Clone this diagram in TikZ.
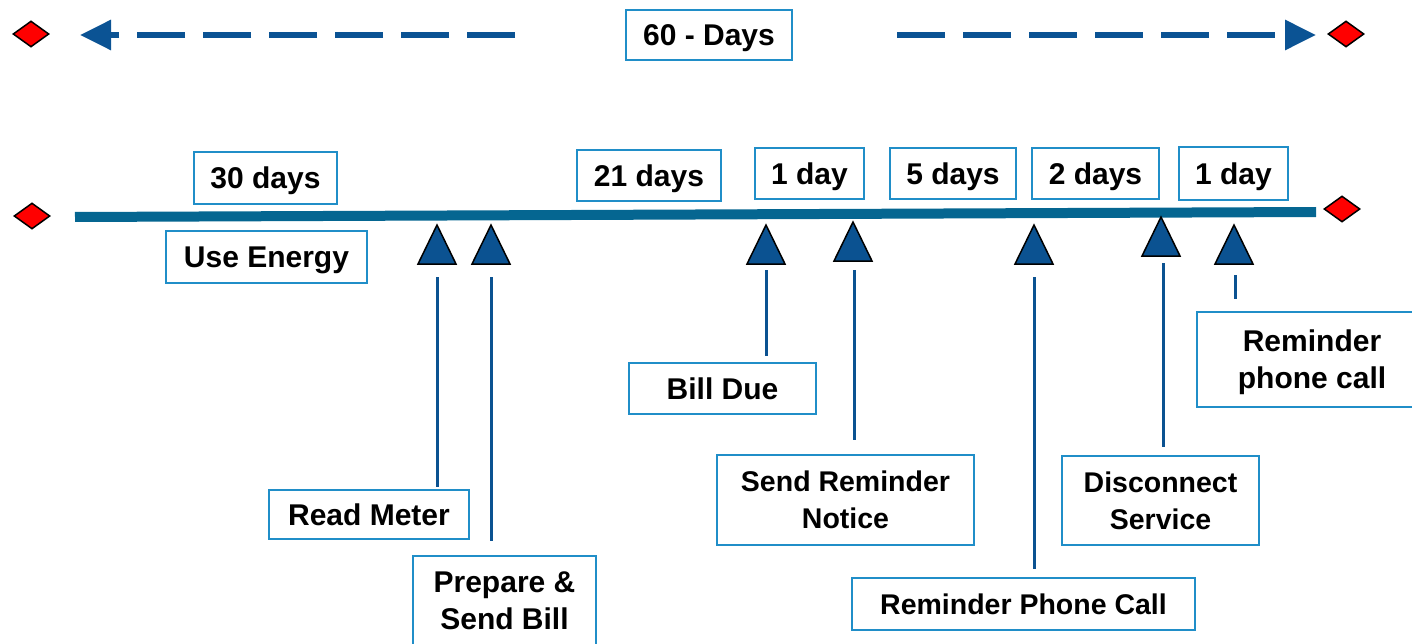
\documentclass[tikz,border=0pt]{standalone}
\usepackage{fontspec}
\setmainfont{Liberation Sans}
\usetikzlibrary{arrows.meta,shapes.geometric}
\definecolor{boxblue}{RGB}{32,142,200}
\definecolor{lineblue}{RGB}{5,102,145}
\definecolor{triblue}{RGB}{11,82,145}
\definecolor{dashblue}{RGB}{11,83,148}
\tikzset{
  lbl/.style={draw=boxblue, line width=2pt, fill=white, inner sep=0pt, align=center,
    font=\fontsize{30}{37}\selectfont\bfseries, text=black},
  small/.style={font=\fontsize{28.5}{37}\selectfont\bfseries},
  one/.style={lbl, text height=21.5pt, text depth=0pt},
  txt/.style={inner sep=0pt, align=center, font=\fontsize{30}{37}\selectfont\bfseries, text=black},
  dia/.style={diamond, draw=black, fill=red, line width=1.5pt, inner sep=0pt, minimum width=36pt, minimum height=26pt},
  topdash/.style={draw=dashblue, line width=6pt, dash pattern=on 48pt off 18pt,
    -{Triangle[length=31pt,width=29pt]}},
  leader/.style={draw=triblue, line width=3pt},
  tri/.pic={\filldraw[fill=triblue, draw=black, line width=1.5pt, line join=miter] (0,0) -- (19,39) -- (-19,39) -- cycle;}
}
\begin{document}
\begin{tikzpicture}[x=1pt,y=-1pt]
\useasboundingbox (0,0) rectangle (1412,644);
% top row
\node[dia] (dTL) at (31,34) {};
\node[dia] (dTR) at (1346,34) {};
\node[one, minimum width=166pt, minimum height=50pt] (sixty) at (709,35) {60 - Days};
\coordinate (aLs) at (515,35);
\coordinate (aLe) at (80,35);
\coordinate (aRs) at (897,35);
\coordinate (aRe) at (1316,35);
\draw[topdash] (aLs) -- (aLe);
\draw[topdash] (aRs) -- (aRe);
% timeline
\node[dia] (dML) at (32,216) {};
\node[dia] (dMR) at (1342,209) {};
\coordinate (tlA) at (75,217);
\coordinate (tlB) at (1316,212);
\draw[draw=lineblue, line width=10pt] (tlA) -- (tlB);
% duration boxes
\node[one, minimum width=143pt, minimum height=52pt] (d30) at (265.5,178) {30 days};
\node[one, minimum width=144pt, minimum height=51pt] (d21) at (649,175.5) {21 days};
\node[one, minimum width=109pt, minimum height=51pt] (d1a) at (809.5,173.5) {1 day};
\node[one, minimum width=126pt, minimum height=51pt] (d5) at (953,173.5) {5 days};
\node[one, minimum width=127pt, minimum height=51pt] (d2) at (1095.5,173.5) {2 days};
\node[one, minimum width=109pt, minimum height=53pt] (d1b) at (1233.5,173.5) {1 day};
\node[one, minimum width=201pt, minimum height=52pt] (use) at (266.5,257) {Use Energy};
% triangles
\pic at (437,225) {tri};
\pic at (491,225) {tri};
\pic at (766,225) {tri};
\pic at (853,222) {tri};
\pic at (1034,225) {tri};
\pic at (1161,217) {tri};
\pic at (1234,225) {tri};
% event boxes
\node[one, minimum width=200pt, minimum height=49pt] (read) at (369,514.5) {Read Meter};
\node[lbl, minimum width=183pt, minimum height=90pt] (prep) at (504.5,601) {Prepare \&\\Send Bill};
\node[one, minimum width=187pt, minimum height=51pt] (due) at (722.5,388.5) {Bill Due};
\node[lbl, small, minimum width=257pt, minimum height=90pt] (notice) at (845.5,500) {Send Reminder\\Notice};
\node[one, small, text height=20.5pt, minimum width=343pt, minimum height=52pt] (phone) at (1023.5,604) {Reminder Phone Call};
\node[lbl, small, minimum width=197pt, minimum height=89pt] (disc) at (1160.5,500.5) {Disconnect\\Service};
\node[lbl, minimum width=230pt, minimum height=95pt] (call) at (1312,359.5) {};
\node[txt] (calltext) at ([yshift=-3pt]call.center) {Reminder\\phone call};
% leader lines
\coordinate (l1) at (437,277);
\coordinate (l2a) at (491,277);
\coordinate (l2b) at (491,541);
\coordinate (l3) at (766,270);
\coordinate (l4a) at (854,270);
\coordinate (l4b) at (854,440);
\coordinate (l5a) at (1034,277);
\coordinate (l5b) at (1034,569);
\coordinate (l6) at (1163,263);
\coordinate (l7a) at (1235,275);
\coordinate (l7b) at (1235,299);
\draw[leader] (l1) -- ([yshift=2pt]l1 |- read.north);
\draw[leader] (l2a) -- (l2b);
\draw[leader] (l3) -- ([yshift=6pt]l3 |- due.north);
\draw[leader] (l4a) -- (l4b);
\draw[leader] (l5a) -- (l5b);
\draw[leader] (l6) -- ([yshift=8pt]l6 |- disc.north);
\draw[leader] (l7a) -- (l7b);
\end{tikzpicture}
\end{document}
